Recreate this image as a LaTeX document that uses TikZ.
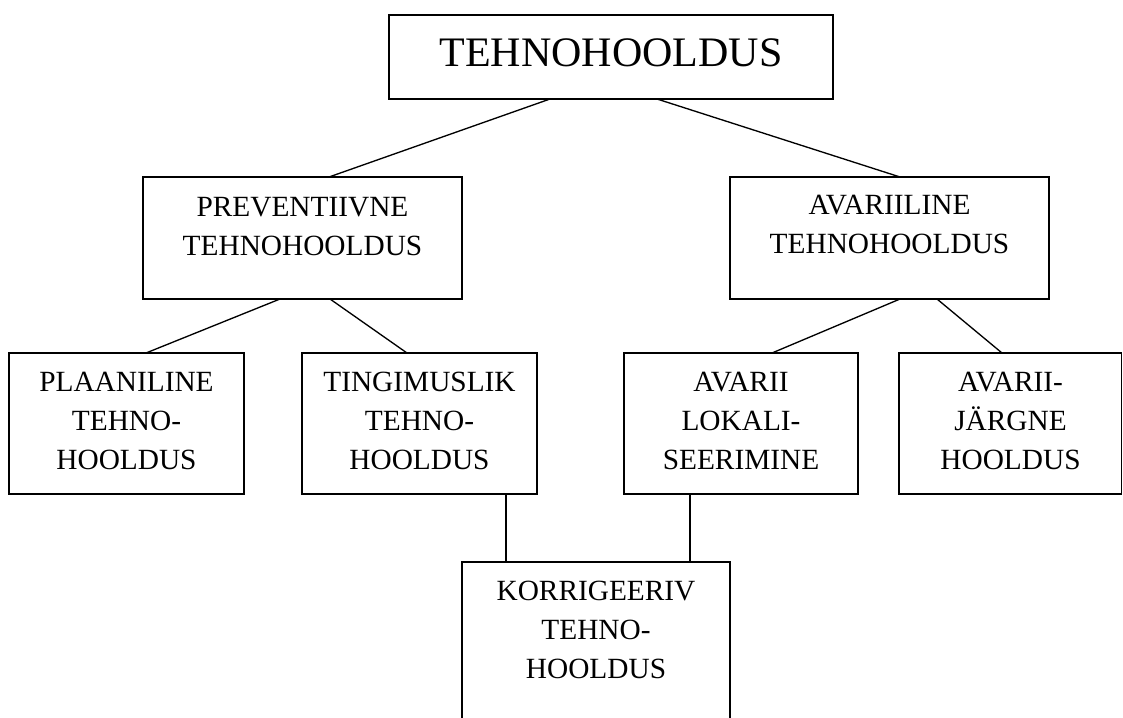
\documentclass[tikz,border=0pt]{standalone}
\usepackage{fontspec}
\setmainfont{Liberation Serif}
\usetikzlibrary{calc}
\newcommand\boxlines[1]{\begin{tabular}[t]{@{}c@{}}#1\end{tabular}}
\begin{document}
\begin{tikzpicture}[x=0.75pt,y=-0.75pt,
  bx/.style n args={2}{draw, line width=1pt, anchor=north west, inner sep=0pt, outer sep=0pt,
     minimum width=#1*0.75pt, minimum height=#2*0.75pt},
  lbl/.style={anchor=base, inner sep=0pt, font=\fontsize{22}{29.25}\selectfont},
  toplbl/.style={anchor=base, inner sep=0pt, font=\fontsize{31.5}{38}\selectfont},
  conn/.style={line width=1pt}]
\clip (0,0) rectangle (1123,717);
\fill[white] (0,0) rectangle (1123,717);
% boxes
\node[bx={444}{84}]   (top)    at (389,15)  {};
\node[bx={319}{122}]  (prev)   at (143,177) {};
\node[bx={319}{122}]  (avar)   at (730,177) {};
\node[bx={235}{141}]  (plaan)  at (9,353)   {};
\node[bx={235}{141}]  (ting)   at (302,353) {};
\node[bx={234}{141}]  (lokal)  at (624,353) {};
\node[bx={222.5}{141}] (jargne) at (899,353) {};
\node[bx={268}{200}]  (korr)   at (462,562) {};
% labels
\node[toplbl] (topt)    at (611,66)    {TEHNOHOOLDUS};
\node[lbl]    (prevt)   at (302.5,216) {\boxlines{PREVENTIIVNE\\TEHNOHOOLDUS}};
\node[lbl]    (avart)   at (889.5,214) {\boxlines{AVARIILINE\\TEHNOHOOLDUS}};
\node[lbl]    (plaant)  at (126.5,391) {\boxlines{PLAANILINE\\TEHNO-\\HOOLDUS}};
\node[lbl]    (tingt)   at (419.5,391) {\boxlines{TINGIMUSLIK\\TEHNO-\\HOOLDUS}};
\node[lbl]    (lokalt)  at (741,391)   {\boxlines{AVARII\\LOKALI-\\SEERIMINE}};
\node[lbl]    (jargnet) at (1010.5,391){\boxlines{AVARII-\\JÄRGNE\\HOOLDUS}};
\node[lbl]    (korrt)   at (596,600)   {\boxlines{KORRIGEERIV\\TEHNO-\\HOOLDUS}};
% connectors
\draw[conn] ($(top.south west)+(161,0)$) -- ($(prev.north west)+(186,0)$);
\draw[conn] ($(top.south west)+(268,0)$) -- ($(avar.north west)+(170,0)$);
\draw[conn] ($(prev.south west)+(137,0)$) -- ($(plaan.north west)+(137,0)$);
\draw[conn] ($(prev.south west)+(187,0)$) -- ($(ting.north west)+(105,0)$);
\draw[conn] ($(avar.south west)+(170,0)$) -- ($(lokal.north west)+(148,0)$);
\draw[conn] ($(avar.south west)+(207,0)$) -- ($(jargne.north west)+(103,0)$);
\draw[conn] ($(ting.south west)+(204,0)$) -- ($(korr.north west)+(44,0)$);
\draw[conn] ($(lokal.south west)+(66,0)$) -- ($(korr.north west)+(228,0)$);
\end{tikzpicture}
\end{document}
